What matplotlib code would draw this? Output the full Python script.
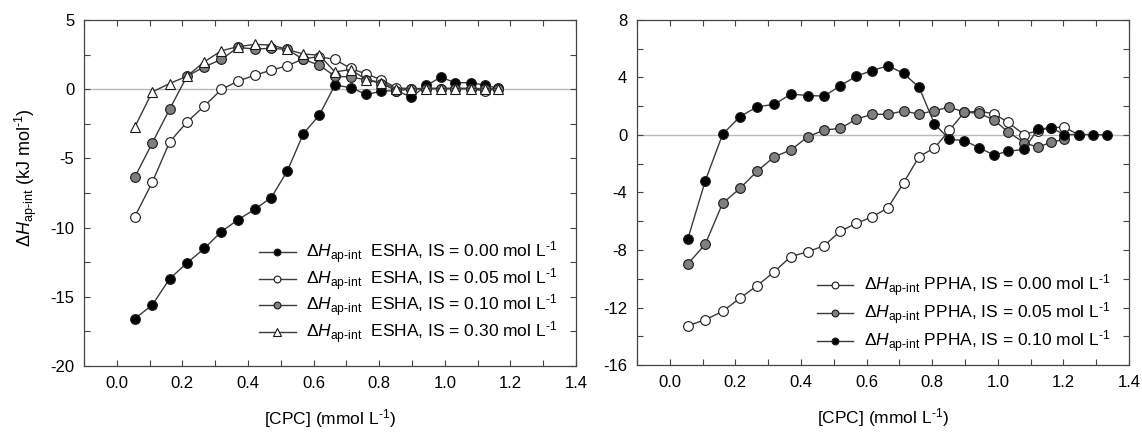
import matplotlib
matplotlib.use("Agg")
import matplotlib.pyplot as plt
from matplotlib.ticker import MultipleLocator, FormatStrFormatter

plt.rcParams['font.family'] = ['Liberation Sans', 'DejaVu Sans']
plt.rcParams['mathtext.fontset'] = 'custom'
plt.rcParams['mathtext.rm'] = 'Liberation Sans'
plt.rcParams['mathtext.it'] = 'Liberation Sans:italic'
plt.rcParams['mathtext.bf'] = 'Liberation Sans:bold'
plt.rcParams['axes.unicode_minus'] = False

# ---- data ----
cpc = [0.055, 0.108, 0.161, 0.214, 0.267, 0.319, 0.369, 0.421, 0.471, 0.520,
       0.569, 0.617, 0.665, 0.713, 0.760, 0.807, 0.852, 0.898, 0.944, 0.988,
       1.032, 1.080, 1.122, 1.162, 1.203, 1.247, 1.290, 1.332]

esha_000 = [-16.57, -15.6, -13.7, -12.56, -11.5, -10.29, -9.44, -8.67, -7.83, -5.9,
            -3.21, -1.88, 0.29, 0.12, -0.38, -0.15, -0.1, -0.57, 0.27, 0.87,
            0.47, 0.47, 0.29, 0.07]
esha_005 = [-9.2, -6.74, -3.82, -2.37, -1.21, -0.02, 0.58, 1.01, 1.38, 1.69,
            2.2, 2.35, 2.15, 1.5, 1.1, 0.68, 0.1, 0.02, 0.05, 0.05,
            0.05, 0.05, -0.15, 0.05]
esha_010 = [-6.35, -3.89, -1.45, 0.94, 1.62, 2.15, 3.02, 2.9, 2.95, 2.87,
            2.15, 1.74, 0.94, 0.88, 0.68, 0.41, -0.1, 0.0, 0.05, 0.05,
            0.05, 0.05, 0.0, 0.05]
esha_030 = [-2.73, -0.2, 0.41, 0.94, 1.98, 2.78, 3.07, 3.24, 3.19, 2.87,
            2.54, 2.46, 1.25, 1.42, 0.7, 0.48, 0.05, 0.05, 0.05, 0.05,
            0.05, 0.05, 0.05, 0.05]

ppha_000 = [-13.27, -12.85, -12.27, -11.35, -10.47, -9.5, -8.46, -8.12, -7.7, -6.68,
            -6.15, -5.69, -5.07, -3.32, -1.5, -0.9, 0.32, 1.58, 1.65, 1.48,
            0.87, 0.03, 0.3, 0.5, 0.55, 0.0]
ppha_005 = [-8.97, -7.6, -4.75, -3.71, -2.5, -1.51, -1.04, -0.12, 0.35, 0.46,
            1.11, 1.44, 1.44, 1.67, 1.45, 1.7, 1.93, 1.6, 1.5, 1.05,
            0.2, -0.53, -0.85, -0.51, -0.3]
ppha_010 = [-7.23, -3.2, 0.05, 1.28, 1.97, 2.13, 2.85, 2.74, 2.71, 3.43,
            4.1, 4.48, 4.82, 4.29, 3.31, 0.78, -0.3, -0.39, -0.9, -1.39,
            -1.13, -1.0, 0.4, 0.51, 0.03, 0.03, 0.03, 0.0]

sub = r"$\Delta \mathit{H}_{\mathrm{ap‐int}}$"
unit = "mol L$^{‐1}$"
left_labels = [sub + "  ESHA, IS = 0.00 " + unit,
               sub + "  ESHA, IS = 0.05 " + unit,
               sub + "  ESHA, IS = 0.10 " + unit,
               sub + "  ESHA, IS = 0.30 " + unit]
right_labels = [sub + " PPHA, IS = 0.00 " + unit,
                sub + " PPHA, IS = 0.05 " + unit,
                sub + " PPHA, IS = 0.10 " + unit]

LINE = '#3a3a3a'
GREY = '#7f7f7f'
EDGE = '#1a1a1a'
SPINE = '#444444'

fig = plt.figure(figsize=(11.42, 4.34), dpi=100)
ax1 = fig.add_axes([84/1142, 1-366/434, 492/1142, 346/434])
ax2 = fig.add_axes([637/1142, 1-365/434, 492/1142, 345/434])

def style(ax, ylim, ymaj, ymin):
    ax.set_xlim(-0.1, 1.4)
    ax.set_ylim(*ylim)
    ax.xaxis.set_major_locator(MultipleLocator(0.2))
    ax.xaxis.set_minor_locator(MultipleLocator(0.1))
    ax.yaxis.set_major_locator(MultipleLocator(ymaj))
    ax.yaxis.set_minor_locator(MultipleLocator(ymin))
    ax.tick_params(which='both', direction='in', top=True, right=True,
                   length=4, width=0.8, color=SPINE, labelsize=12, pad=7)
    for s in ax.spines.values():
        s.set_color(SPINE)
        s.set_linewidth(0.9)
    ax.axhline(0, color='#b8b8b8', lw=1.0, zorder=1)
    ax.set_xlabel("[CPC] (mmol L$^{‐1}$)", fontsize=12.5, labelpad=12)
    ax.xaxis.set_major_formatter(FormatStrFormatter('%.1f'))

style(ax1, (-20, 5), 5, 2.5)
style(ax2, (-16, 8), 4, 2)
ax2.yaxis.set_major_formatter(FormatStrFormatter('%d'))
ax1.set_ylabel(r"$\Delta \mathit{H}_{\mathrm{ap‐int}}$ (kJ mol$^{‐1}$)", fontsize=13)
ax1.yaxis.set_label_coords(-0.092, 0.545)

kw = dict(color=LINE, lw=1.0, markersize=7, markeredgecolor=EDGE, markeredgewidth=0.8)

ax1.plot(cpc[:len(esha_000)], esha_000, marker='o', markerfacecolor='black', label=left_labels[0], zorder=3, **kw)
ax1.plot(cpc[:len(esha_005)], esha_005, marker='o', markerfacecolor='white', label=left_labels[1], zorder=4, **kw)
ax1.plot(cpc[:len(esha_010)], esha_010, marker='o', markerfacecolor=GREY, label=left_labels[2], zorder=5, **kw)
ax1.plot(cpc[:len(esha_030)], esha_030, marker='^', markerfacecolor='white', label=left_labels[3], zorder=6,
         **{**kw, 'markersize': 7.5})

ax2.plot(cpc[:len(ppha_000)], ppha_000, marker='o', markerfacecolor='white', label=right_labels[0], zorder=3, **kw)
ax2.plot(cpc[:len(ppha_005)], ppha_005, marker='o', markerfacecolor=GREY, label=right_labels[1], zorder=4, **kw)
ax2.plot(cpc[:len(ppha_010)], ppha_010, marker='o', markerfacecolor='black', label=right_labels[2], zorder=5, **kw)

leg_kw = dict(frameon=False, fontsize=12.5, handlelength=2.1, handletextpad=0.6,
              markerscale=0.7, labelspacing=0.0, borderaxespad=0, borderpad=0)
ax1.legend(loc='lower right', bbox_to_anchor=(0.962, 0.058), **leg_kw)
leg2 = dict(leg_kw, labelspacing=0.08)
ax2.legend(loc='lower right', bbox_to_anchor=(0.962, 0.029), **leg2)

fig.savefig("out.png", dpi=100)
